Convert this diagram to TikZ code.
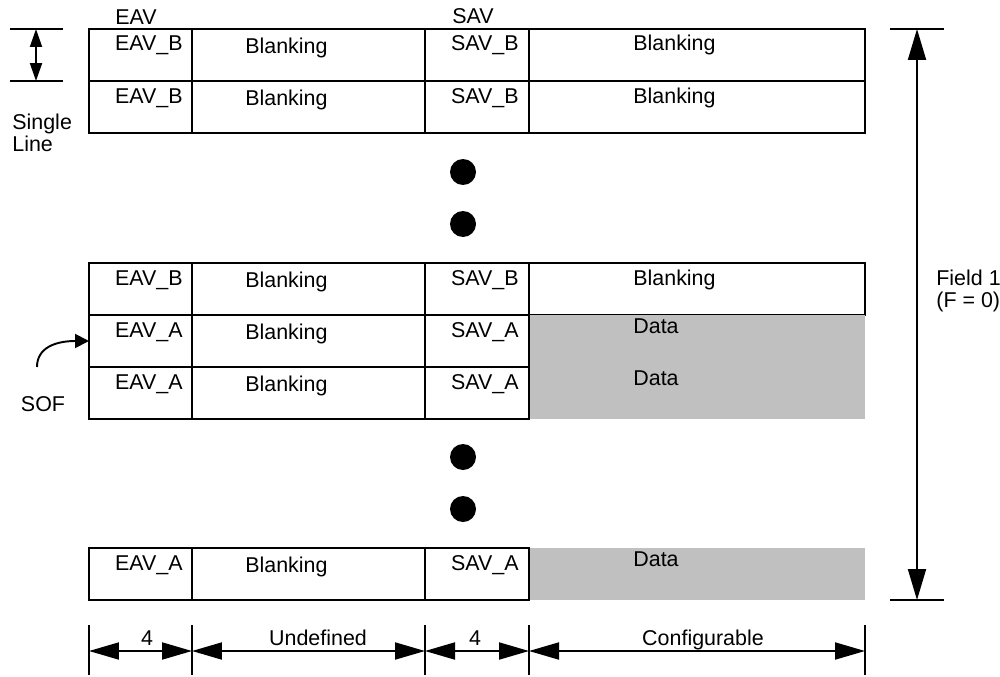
\documentclass[tikz,border=0pt]{standalone}
\usepackage{fontspec}
\setmainfont{Liberation Sans}
\usetikzlibrary{calc, positioning, arrows.meta}
\definecolor{dataGray}{RGB}{192, 192, 192}

\begin{document}
\begin{tikzpicture}[
  x=0.02cm, y=-0.02cm,
  cell/.style={draw, line width=1.1pt, anchor=north west, minimum height=1.04cm,
               inner sep=0pt, outer sep=0pt},
  blankcell/.style={cell, minimum width=6.72cm},
  datacell/.style={fill=dataGray, anchor=north west, minimum height=1.04cm,
                   minimum width=6.72cm, inner sep=0pt, outer sep=0pt},
  txt/.style={font=\fontsize{12.2}{14}\selectfont, inner sep=0pt},
  dot/.style={circle, fill=black, minimum size=0.52cm, inner sep=0pt},
  rule/.style={line width=1.1pt},
  dimline/.style={line width=1.1pt,
                  {Triangle[length=0.6cm, width=0.34cm]}-{Triangle[length=0.6cm, width=0.34cm]}},
  >=Stealth
]
  \useasboundingbox (0,0) rectangle (1000,676);

  % ── rows ──
  \foreach \y/\k/\st/\rt/\dy [count=\n] in {
      29/B/blankcell/Blanking/22, 81/B/blankcell/Blanking/22,
      263/B/blankcell/Blanking/22, 315/A/datacell/Data/18,
      367/A/datacell/Data/18, 548/A/datacell/Data/18} {
    \node[\st] (rt\n) at (529,\y) {};
    \node[cell, minimum width=2.06cm] (eav\n) at (89,\y) {};
    \node[cell, minimum width=4.66cm] (blk\n) at (192,\y) {};
    \node[cell, minimum width=2.08cm] (sav\n) at (425,\y) {};
    \node[txt, anchor=base east] (eavt\n) at (183,\y+22) {EAV\_\k};
    \node[txt, anchor=base west] (blkt\n) at (245,\y+24) {Blanking};
    \node[txt, anchor=base east] (savt\n) at (519,\y+22) {SAV\_\k};
    \node[txt, anchor=base west] (rtt\n) at (633,\y+\dy) {\rt};
  }

  % ── headings ──
  \node[txt, anchor=base west] (eavhead) at (115,25) {EAV};
  \node[txt, anchor=base west] (savhead) at (452,23) {SAV};

  % ── dots ──
  \foreach \y [count=\i] in {172, 224, 457, 509}
    \node[dot] (dot\i) at (463,\y) {};

  % ── single line ──
  \coordinate (sltop) at (36,29);
  \coordinate (slbot) at (36,81);
  \draw[rule] (10,29) -- (63,29);
  \draw[rule] (10,81) -- (63,81);
  \draw[rule, {Triangle[length=0.36cm, width=0.24cm]}-{Triangle[length=0.36cm, width=0.24cm]}]
    (sltop) -- (slbot);
  \node[txt, anchor=base west] (single) at (12,129) {Single};
  \node[txt, anchor=base west] (line) at (12,151) {Line};

  % ── SOF ──
  \node[txt] (sof) at (43,404) {SOF};
  \coordinate (sofstart) at (37,367);
  \draw[rule, -{Triangle[length=0.28cm, width=0.28cm]}]
    (sofstart) .. controls (37,348) and (55,341) .. (eav4.west);

  % ── field 1 ──
  \coordinate (ftop) at (917,29);
  \coordinate (fbot) at (917,600);
  \draw[rule] (890,29) -- (944,29);
  \draw[rule] (890,600) -- (944,600);
  \draw[rule, {Triangle[length=0.62cm, width=0.36cm]}-{Triangle[length=0.62cm, width=0.36cm]}]
    (ftop) -- (fbot);
  \node[txt, anchor=base west] (field) at (936,285) {Field 1};
  \node[txt, anchor=base west] (fval) at (936,307) {(F = 0)};

  % ── widths ──
  \foreach \x [count=\i] in {89, 192, 425, 529, 865} {
    \coordinate (d\i) at (\x,651);
    \draw[rule] (\x,625) -- (\x,675);
  }
  \draw[dimline] (d1) -- (d2);
  \draw[dimline] (d2) -- (d3);
  \draw[dimline] (d3) -- (d4);
  \draw[dimline] (d4) -- (d5);
  \node[txt, anchor=base] (w1) at (147,645) {4};
  \node[txt, anchor=base] (w2) at (318,645) {Undefined};
  \node[txt, anchor=base] (w3) at (475,645) {4};
  \node[txt, anchor=base] (w4) at (703,645) {Configurable};
\end{tikzpicture}
\end{document}
